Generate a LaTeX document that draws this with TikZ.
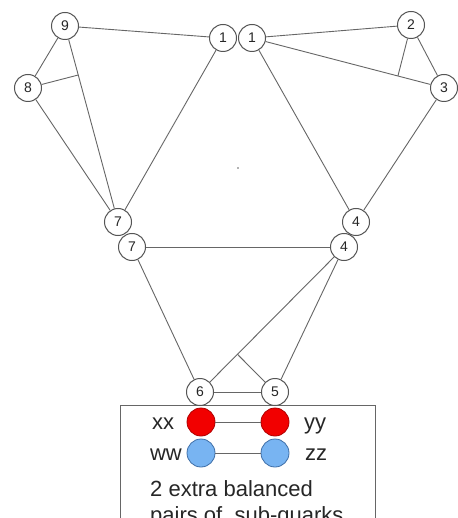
\documentclass[tikz,border=0pt]{standalone}
\usepackage{fontspec}
\setmainfont{Liberation Sans}
\usetikzlibrary{calc}
\definecolor{edgegray}{HTML}{666666}
\definecolor{ringgray}{HTML}{555555}
\definecolor{quarkred}{HTML}{F20000}
\definecolor{quarkredline}{HTML}{B00000}
\definecolor{quarkblue}{HTML}{78B4F2}
\definecolor{quarkblueline}{HTML}{3F6FA8}
\tikzset{
  num/.style={circle,draw=ringgray,line width=1pt,fill=white,minimum size=27pt,inner sep=0pt,
    font=\fontsize{14}{16}\selectfont,text=black!85},
  conn/.style={draw=edgegray,line width=0.9pt},
  redq/.style={circle,draw=quarkredline,fill=quarkred,line width=0.8pt,minimum size=28pt,inner sep=0pt},
  blueq/.style={circle,draw=quarkblueline,fill=quarkblue,line width=0.8pt,minimum size=28pt,inner sep=0pt},
  lbl/.style={font=\fontsize{22}{26}\selectfont,text=black!85,inner sep=0pt,anchor=base},
  legendbox/.style={draw=edgegray,line width=0.9pt,fill=white}
}
\begin{document}
\begin{tikzpicture}[x=1pt,y=-1pt]
\useasboundingbox (0,0) rectangle (457,518);
\fill[white] (0,0) rectangle (457,518);

% legend box
\draw[legendbox] (120,405) rectangle (375,540);

% numbered nodes
\node[num] (n9) at (65,26) {9};
\node[num] (n8) at (28,88) {8};
\node[num] (n1l) at (223,38) {1};
\node[num] (n1r) at (252,38) {1};
\node[num] (n2) at (411,25) {2};
\node[num] (n3) at (444,88) {3};
\node[num] (n7u) at (118,222) {7};
\node[num] (n7l) at (132,247) {7};
\node[num] (n4u) at (356,222) {4};
\node[num] (n4l) at (344,247) {4};
\node[num] (n6) at (200,392) {6};
\node[num] (n5) at (275,392) {5};

% junction points
\coordinate (j8) at ($(n9)!0.25!(n7u)$);
\coordinate (j2) at ($(n1r)!0.76!(n3)$);
\coordinate (j5) at ($(n4l)!0.74!(n6)$);

% connectors
\path[conn] (n9) -- (n1l);
\path[conn] (n9) -- (n8);
\path[conn] (n9) -- (n7u);
\path[conn] (n8) -- (n7u);
\path[conn] (n8) -- (j8);
\path[conn] (n1l) -- (n7u);
\path[conn] (n1r) -- (n2);
\path[conn] (n1r) -- (n3);
\path[conn] (n2) -- (n3);
\path[conn] (n2) -- (j2);
\path[conn] (n1r) -- (n4u);
\path[conn] (n3) -- (n4u);
\path[conn] (n7l) -- (n4l);
\path[conn] (n7l) -- (n6);
\path[conn] (n4l) -- (n6);
\path[conn] (n4l) -- (n5);
\path[conn] (n5) -- (j5);
\path[conn] (n6) -- (n5);

% stray dot
\fill[edgegray] (238,168) circle (0.8);

% sub-quarks
\node[redq] (xx) at (201,422) {};
\node[redq] (yy) at (275,422) {};
\node[blueq] (ww) at (201,453) {};
\node[blueq] (zz) at (275,453) {};
\path[conn] (xx) -- (yy);
\path[conn] (ww) -- (zz);

\node[lbl] (lxx) at (163,429) {xx};
\node[lbl] (lww) at (166,460) {ww};
\node[lbl] (lyy) at (315,429) {yy};
\node[lbl] (lzz) at (316,460) {zz};

\node[lbl,anchor=base west] (t1) at (150,496) {2 extra balanced};
\node[lbl,anchor=base west] (t2) at (150,522) {pairs of\ \ sub-quarks};
\end{tikzpicture}
\end{document}
